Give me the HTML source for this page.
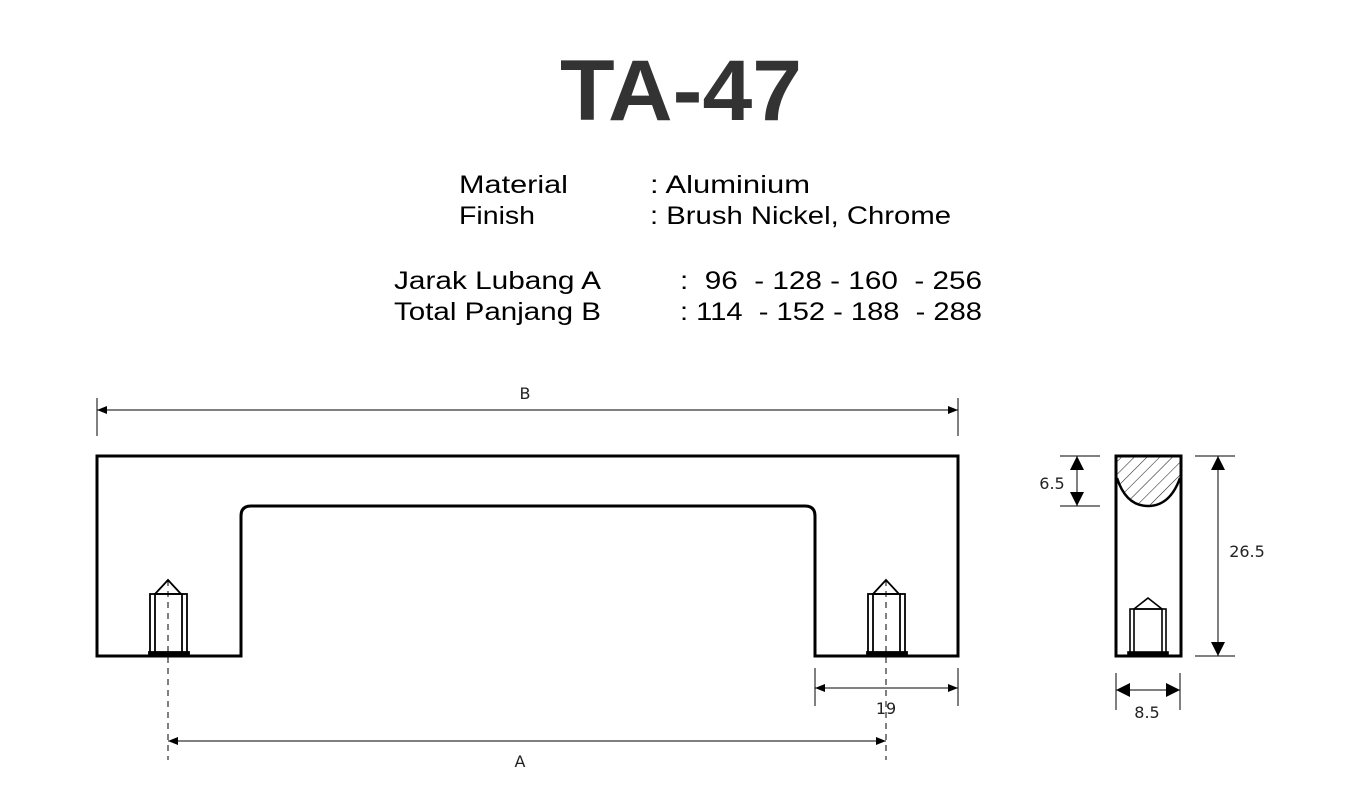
<!DOCTYPE html>
<html><head><meta charset="utf-8"><style>
html,body{margin:0;padding:0;background:#fff;width:1360px;height:800px;overflow:hidden}
svg{display:block}
</style></head><body>
<svg width="1360" height="800" viewBox="0 0 1360 800" xmlns="http://www.w3.org/2000/svg">
<defs>
<marker id="ar" viewBox="0 0 10 10" refX="10" refY="5" markerWidth="10" markerHeight="10" orient="auto-start-reverse" markerUnits="userSpaceOnUse"><path d="M0,1 L10,5 L0,9 z" fill="#000"/></marker>
<marker id="ab" viewBox="0 0 14 14" refX="14" refY="7" markerWidth="14" markerHeight="14" orient="auto-start-reverse" markerUnits="userSpaceOnUse"><path d="M0,0 L14,7 L0,14 z" fill="#000"/></marker>
<pattern id="h" width="9" height="9" patternUnits="userSpaceOnUse" patternTransform="rotate(45)"><line x1="0" y1="0" x2="0" y2="9" stroke="#222" stroke-width="1.1"/></pattern>
<clipPath id="cp"><path d="M1117,457 H1180 V480 Q1170,506 1148,506 Q1126,506 1117,480 Z"/></clipPath>
</defs>
<text x="560" y="120" font-family="Liberation Sans, sans-serif" font-weight="bold" font-size="86" fill="#333" textLength="242" lengthAdjust="spacingAndGlyphs">TA-47</text>
<g font-family="Liberation Sans, sans-serif" font-size="25" fill="#000">
<text x="459" y="193" textLength="109" lengthAdjust="spacingAndGlyphs">Material</text>
<text x="650" y="193" textLength="160" lengthAdjust="spacingAndGlyphs">: Aluminium</text>
<text x="459" y="224" textLength="76" lengthAdjust="spacingAndGlyphs">Finish</text>
<text x="650" y="224" textLength="301" lengthAdjust="spacingAndGlyphs">: Brush Nickel, Chrome</text>
<text x="394" y="289" textLength="207" lengthAdjust="spacingAndGlyphs">Jarak Lubang A</text>
<text x="680" y="289" textLength="302" lengthAdjust="spacingAndGlyphs" xml:space="preserve">:  96  - 128 - 160  - 256</text>
<text x="394" y="320" textLength="207" lengthAdjust="spacingAndGlyphs">Total Panjang B</text>
<text x="680" y="320" textLength="302" lengthAdjust="spacingAndGlyphs" xml:space="preserve">: 114  - 152 - 188  - 288</text>
</g>
<path d="M97,456 H958 V656 H815 V516 Q815,506 805,506 H251 Q241,506 241,516 V656 H97 Z" fill="none" stroke="#000" stroke-width="3"/>
<g stroke="#000" fill="none" stroke-width="1.8">
<g id="s1">
<rect x="150" y="594" width="37" height="60"/>
<rect x="155" y="594" width="27" height="60"/>
<path d="M155,594 L168,580 L181,594"/>
<rect x="149" y="652" width="40" height="3" fill="#000"/>
</g>
<use href="#s1" x="718"/>
<line x1="168" y1="580" x2="168" y2="760" stroke-dasharray="6,5" stroke-width="1"/>
<line x1="886" y1="580" x2="886" y2="760" stroke-dasharray="6,5" stroke-width="1"/>
</g>
<g stroke="#000" stroke-width="1" fill="none">
<line x1="97" y1="398" x2="97" y2="436"/><line x1="958" y1="398" x2="958" y2="436"/>
<line x1="97" y1="410" x2="958" y2="410" marker-start="url(#ar)" marker-end="url(#ar)"/>
<line x1="168" y1="741" x2="886" y2="741" marker-start="url(#ar)" marker-end="url(#ar)"/>
<line x1="815" y1="668" x2="815" y2="706"/><line x1="958" y1="668" x2="958" y2="706"/>
<line x1="815" y1="688" x2="958" y2="688" marker-start="url(#ar)" marker-end="url(#ar)"/>
</g>
<g font-family="DejaVu Sans, sans-serif" font-size="16" fill="#222" text-anchor="middle">
<text x="525" y="399">B</text><text x="520" y="767">A</text><text x="886" y="714">19</text>
<text x="1052" y="489">6.5</text><text x="1247" y="557">26.5</text><text x="1147" y="718">8.5</text>
</g>
<rect x="1117" y="457" width="63" height="50" fill="url(#h)" clip-path="url(#cp)"/>
<path d="M1117,478 Q1126,506 1148,506 Q1170,506 1180,478" fill="none" stroke="#000" stroke-width="2.5"/>
<rect x="1116" y="456" width="65" height="200" fill="none" stroke="#000" stroke-width="3"/>
<g stroke="#000" fill="none" stroke-width="1.6">
<rect x="1130" y="609" width="36" height="45"/>
<rect x="1134" y="609" width="28" height="45"/>
<path d="M1134,609 L1148,598 L1162,609"/>
<rect x="1128" y="652" width="40" height="3" fill="#000"/>
</g>
<g stroke="#000" stroke-width="1" fill="none">
<line x1="1060" y1="456" x2="1100" y2="456"/><line x1="1060" y1="506" x2="1100" y2="506"/>
<line x1="1077" y1="456" x2="1077" y2="506" marker-start="url(#ab)" marker-end="url(#ab)"/>
<line x1="1195" y1="456" x2="1235" y2="456"/><line x1="1195" y1="656" x2="1235" y2="656"/>
<line x1="1218" y1="456" x2="1218" y2="656" marker-start="url(#ab)" marker-end="url(#ab)"/>
<line x1="1116" y1="673" x2="1116" y2="710"/><line x1="1180" y1="673" x2="1180" y2="710"/>
<line x1="1116" y1="690" x2="1180" y2="690" marker-start="url(#ab)" marker-end="url(#ab)"/>
</g>
</svg>
</body></html>
